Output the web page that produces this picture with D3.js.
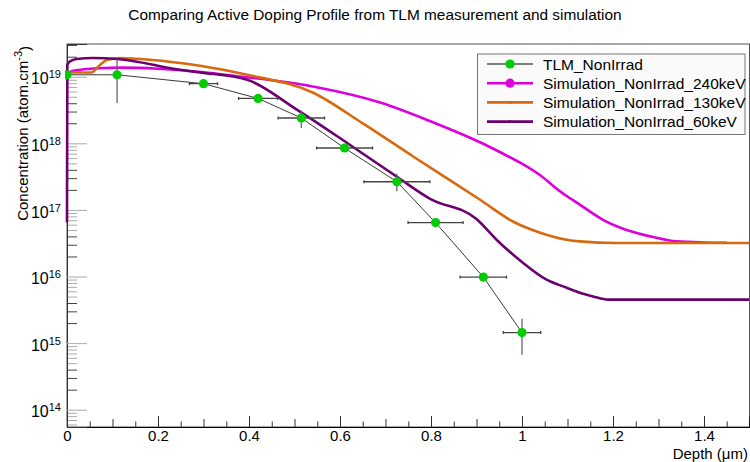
<!DOCTYPE html>
<html><head><meta charset="utf-8">
<script src="https://cdn.jsdelivr.net/npm/d3@7"></script>
<style>
body{margin:0;background:#fff}
svg{display:block}
text{font-family:"Liberation Sans",Arial,Helvetica,sans-serif;fill:#000}
</style>
</head><body>
<svg id="chart" width="750" height="462"></svg>
<script>
// ---------- data ----------
const titleText = "Comparing Active Doping Profile from TLM measurement and simulation";
const xTitle = "Depth (\u03bcm)";
const yTitleMain = "Concentration (atom.cm";
const yTitleSup = "-3";

const xMajorTicks = [0, 0.2, 0.4, 0.6, 0.8, 1, 1.2, 1.4];
const xTickLabels = ["0", "0.2", "0.4", "0.6", "0.8", "1", "1.2", "1.4"];
const yDecades = [14, 15, 16, 17, 18, 19];

const legendLabels = ["TLM_NonIrrad", "Simulation_NonIrrad_240keV", "Simulation_NonIrrad_130keV", "Simulation_NonIrrad_60keV"];

const depthTLM = [0, 0.11, 0.30, 0.42, 0.515, 0.61, 0.725, 0.81, 0.915, 1.0];
const concTLM = [1.07e19, 1.07e19, 7.85e18, 4.72e18, 2.4e18, 8.5e17, 2.65e17, 6.45e16, 9.8e15, 1.44e15];
const depthErrTLM = [0, 0, 0.031, 0.043, 0.051, 0.0615, 0.0725, 0.0605, 0.051, 0.041];
const concErrLowTLM = [0, 6.67e18, 0, 0, 7.0e17, 0, 7.5e16, 0, 0, 7.7e14];
const concErrHighTLM = [0, 7.8e18, 0, 0, 7.2e17, 0, 8.5e16, 0, 0, 8.8e14];

const depth240 = [0, 0.007, 0.03, 0.07, 0.12, 0.2, 0.29, 0.38, 0.54, 0.69, 0.80, 0.91, 0.952, 0.996, 1.04, 1.084, 1.127, 1.178, 1.23, 1.288, 1.34, 1.398, 1.45];
const conc240 = [1.07e19, 1.19e19, 1.27e19, 1.34e19, 1.37e19, 1.32e19, 1.19e19, 1.01e19, 7.15e18, 4.07e18, 2.13e18, 1.02e18, 7.35e17, 5.11e17, 3.31e17, 1.89e17, 1.2e17, 7.1e16, 5.0e16, 3.92e16, 3.37e16, 3.25e16, 3.22e16];

const depth130 = [0, 0.007, 0.054, 0.069, 0.079, 0.088, 0.116, 0.182, 0.292, 0.396, 0.541, 0.651, 0.76, 0.908, 0.98, 1.04, 1.098, 1.127, 1.208, 1.5];
const conc130 = [1.15e19, 1.16e19, 1.16e19, 1.43e19, 1.64e19, 1.8e19, 1.9e19, 1.8e19, 1.46e19, 1.07e19, 5.75e18, 1.97e18, 6.4e17, 1.42e17, 6.7e16, 4.55e16, 3.57e16, 3.37e16, 3.18e16, 3.18e16];

const depth60 = [0, 0.0007, 0.0066, 0.021, 0.057, 0.116, 0.248, 0.292, 0.396, 0.505, 0.615, 0.725, 0.798, 0.9, 0.944, 1.002, 1.054, 1.098, 1.127, 1.156, 1.189, 1.5];
const conc60 = [6.5e16, 1.51e19, 1.7e19, 1.85e19, 1.91e19, 1.83e19, 1.27e19, 1.16e19, 9.0e18, 3.2e18, 1.02e18, 3.15e17, 1.47e17, 7.3e16, 3.57e16, 1.61e16, 8.95e15, 6.8e15, 5.7e15, 5.03e15, 4.49e15, 4.49e15];

const colTLMline = "#3a3a3a", colTLMmark = "#00cc00";
const col240 = "#dd00dd", col130 = "#d8690f", col60 = "#6b006f";

// ---------- layout ----------
const svg = d3.select("#chart");
const L = 67, R = 749.5, T = 44, B = 427;
const x = d3.scaleLinear().domain([0, 1.5]).range([L, R]);
const y = d3.scaleLog().domain([5.5e13, 3.1e19]).range([B, T]);

// title
svg.append("text").attr("x", 375).attr("y", 20).attr("text-anchor", "middle")
  .attr("font-size", 15.4).text(titleText);

// frame
svg.append("rect").attr("x", L).attr("y", T).attr("width", R - L).attr("height", B - T)
  .attr("fill", "none").attr("stroke", "#555").attr("stroke-width", 1);

svg.append("clipPath").attr("id", "clp").append("rect")
  .attr("x", L - 2).attr("y", T).attr("width", R - L + 2).attr("height", B - T);

// x axis ticks
const xMinor = d3.range(0, 1.5001, 0.05).map(v => +v.toFixed(2)).filter(v => Math.abs(v / 0.1 - Math.round(v / 0.1)) > 1e-6);
const xMid = d3.range(0.1, 1.5, 0.2).map(v => +v.toFixed(2));
const gx = svg.append("g").attr("transform", `translate(0,${B})`);
gx.append("g").call(d3.axisBottom(x).tickValues(xMinor).tickSize(-5.5).tickFormat(""));
gx.append("g").call(d3.axisBottom(x).tickValues(xMid).tickSize(-8).tickFormat(""));
gx.append("g").call(d3.axisBottom(x).tickValues(xMajorTicks).tickSize(-11).tickPadding(3)
  .tickFormat((d, i) => xTickLabels[i]));
gx.selectAll(".domain").attr("stroke", "#000");
gx.selectAll(".tick line").attr("stroke", "#333");
gx.selectAll(".tick text").attr("font-size", 15).attr("font-family", '"Liberation Sans",Arial,sans-serif').attr("fill", "#000");

// y axis ticks
const yMinorDark = [], yMinorLight = [];
for (let e = 13; e <= 19; e++) {
  for (let k = 2; k <= 9; k++) {
    const v = k * Math.pow(10, e);
    if (v < 5.5e13 || v > 3.1e19) continue;
    (k >= 5 ? yMinorLight : yMinorDark).push(v);
  }
}
const gy = svg.append("g").attr("transform", `translate(${L},0)`);
gy.append("g").attr("class", "ld").call(d3.axisLeft(y).tickValues(yMinorDark).tickSize(-10).tickFormat(""));
gy.append("g").attr("class", "ll").call(d3.axisLeft(y).tickValues(yMinorLight).tickSize(-10).tickFormat(""));
gy.append("g").attr("class", "lm").call(d3.axisLeft(y).tickValues(yDecades.map(e => Math.pow(10, e))).tickSize(-20).tickPadding(5).tickFormat(""));
gy.selectAll(".domain").attr("stroke", "#333");
gy.selectAll(".ld .tick line").attr("stroke", "#444");
gy.selectAll(".ll .tick line").attr("stroke", "#aaa");
gy.selectAll(".lm .tick line").attr("stroke", "#aaa");
gy.selectAll(".lm .tick").each(function (d) {
  const t = d3.select(this).select("text");
  t.text(null).attr("font-size", 16).attr("x", -6).attr("dy", "0.45em")
    .attr("font-family", '"Liberation Sans",Arial,sans-serif').attr("fill", "#000");
  t.append("tspan").text("10");
  t.append("tspan").attr("dy", "-0.55em").attr("font-size", 11).text(String(Math.round(Math.log10(d))));
});

// axis titles
svg.append("text").attr("x", 748).attr("y", 458.5).attr("text-anchor", "end")
  .attr("font-size", 15).text(xTitle);
const yt = svg.append("text").attr("transform", "translate(28,46) rotate(-90)")
  .attr("text-anchor", "end").attr("font-size", 15);
yt.append("tspan").text(yTitleMain);
yt.append("tspan").attr("dy", "-0.55em").attr("font-size", 11).text(yTitleSup);
yt.append("tspan").attr("dy", "0.55em").text(")");

// ---------- curves ----------
const plot = svg.append("g").attr("clip-path", "url(#clp)");
const line = d3.line().x(d => x(d[0])).y(d => y(d[1])).curve(d3.curveMonotoneX);
const sims = [
  [depth240, conc240, col240],
  [depth130, conc130, col130],
  [depth60, conc60, col60]
];
sims.forEach(([dx, cy, col]) => {
  plot.append("path").datum(dx.map((d, i) => [d, cy[i]]))
    .attr("d", line).attr("fill", "none").attr("stroke", col).attr("stroke-width", 2.6)
    .attr("stroke-linejoin", "round");
});

// TLM
const tlm = depthTLM.map((d, i) => ({d, c: concTLM[i], ex: depthErrTLM[i], lo: concErrLowTLM[i], hi: concErrHighTLM[i]}));
plot.append("path").datum(tlm.map(p => [p.d, p.c]))
  .attr("d", d3.line().x(d => x(d[0])).y(d => y(d[1])))
  .attr("fill", "none").attr("stroke", colTLMline).attr("stroke-width", 1);
const eb = plot.append("g").attr("stroke", "#444").attr("stroke-width", 1.3);
tlm.forEach(p => {
  if (p.ex > 0) {
    eb.append("line").attr("x1", x(p.d - p.ex)).attr("x2", x(p.d + p.ex)).attr("y1", y(p.c)).attr("y2", y(p.c));
    eb.append("line").attr("x1", x(p.d - p.ex)).attr("x2", x(p.d - p.ex)).attr("y1", y(p.c) - 1.5).attr("y2", y(p.c) + 1.5);
    eb.append("line").attr("x1", x(p.d + p.ex)).attr("x2", x(p.d + p.ex)).attr("y1", y(p.c) - 1.5).attr("y2", y(p.c) + 1.5);
  }
  if (p.lo > 0 || p.hi > 0) {
    eb.append("line").attr("x1", x(p.d)).attr("x2", x(p.d)).attr("y1", y(p.c + p.hi)).attr("y2", y(p.c - p.lo)).attr("stroke", "#666");
  }
});
plot.append("g").selectAll("circle").data(tlm).join("circle")
  .attr("cx", p => x(p.d)).attr("cy", p => y(p.c)).attr("r", 4.6).attr("fill", colTLMmark);

// ---------- legend ----------
const lg = svg.append("g");
lg.append("rect").attr("x", 477.5).attr("y", 54).attr("width", 267.5).attr("height", 80.5)
  .attr("fill", "#fafafa").attr("stroke", "#777").attr("stroke-width", 1);
const legItems = [
  {line: "#000", lw: 1, mark: colTLMmark, r: 4.6},
  {line: col240, lw: 2.6, mark: col240, r: 4.6},
  {line: col130, lw: 2.6, mark: col130, r: 1.5},
  {line: col60, lw: 2.6, mark: col60, r: 1.5}
];
legItems.forEach((it, i) => {
  const yy = 64 + i * 19.2;
  lg.append("line").attr("x1", 487).attr("x2", 533).attr("y1", yy).attr("y2", yy)
    .attr("stroke", it.line).attr("stroke-width", it.lw);
  lg.append("circle").attr("cx", 510).attr("cy", yy).attr("r", it.r).attr("fill", it.mark);
  lg.append("text").attr("x", 543).attr("y", yy).attr("dy", "0.36em").attr("font-size", 15.5)
    .text(legendLabels[i]);
});
</script>
</body></html>
